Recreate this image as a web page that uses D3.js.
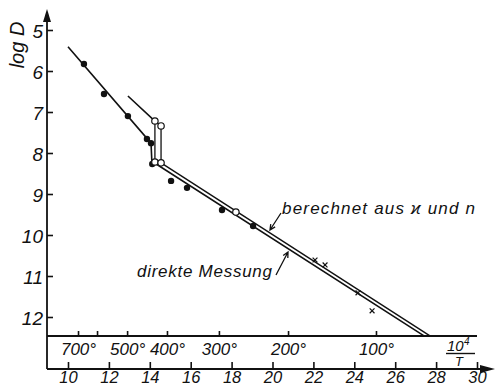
<!DOCTYPE html>
<html>
<head>
<meta charset="utf-8">
<script src="https://cdn.jsdelivr.net/npm/d3@7/dist/d3.min.js"></script>
<style>
  html, body { margin: 0; padding: 0; background: #fff; }
  svg text { font-family: "Liberation Sans", "DejaVu Sans", sans-serif; font-style: italic; fill: #111; }
</style>
</head>
<body>
<div id="chart"></div>
<script>
// x: 10^4 / T, y: log D (drawn downward)
const xTicks = [10, 12, 14, 16, 18, 20, 22, 24, 26, 28, 30];
const yTicks = [5, 6, 7, 8, 9, 10, 11, 12];

// temperature scale (°C) and where its ticks sit on the 10^4/T axis
const tempLabels = ["700°", "", "500°", "400°", "300°", "200°", "100°"];
const tempTickPos = [10.49, 11.42, 12.89, 14.84, 17.38, 20.76, 25.06];

// measured points
const filledDots = [[10.78, 5.83], [11.76, 6.56], [12.93, 7.1], [13.86, 7.66], [14.06, 7.76],
                    [14.12, 8.27], [15.04, 8.68], [15.82, 8.85], [17.53, 9.39], [19.05, 9.78]];
const openDots = [[14.25, 7.22], [14.55, 7.34], [14.25, 8.22], [14.55, 8.24], [18.21, 9.44]];
const crosses = [[22.08, 10.61], [22.57, 10.73], [24.18, 11.41], [24.87, 11.85]];

// curves: "direkte Messung" and "berechnet aus ϰ und n"
const directLine = [[10.0, 5.41], [14.06, 7.76], [14.1, 8.2], [27.41, 12.46]];
const calcTop = [[12.93, 6.61], [14.25, 7.22], [14.55, 7.34]];
const calcDrops = [[[14.25, 7.22], [14.25, 8.22]], [[14.55, 7.34], [14.55, 8.24]]];
const calcLine = [[14.55, 8.24], [27.7, 12.46]];

const width = 496, height = 386;
const axisX = 47, tempAxisY = 336, mainAxisY = 369;

const svg = d3.select("#chart").append("svg")
  .attr("width", width).attr("height", height);

const x = d3.scaleLinear().domain([10, 30]).range([68, 477]);
const y = d3.scaleLinear().domain([5, 12]).range([30, 317]);

const line = d3.line().x(d => x(d[0])).y(d => y(d[1]));

// axis lines (drawn by hand so the y axis runs down to the lower x axis)
svg.append("line").attr("x1", axisX).attr("x2", axisX).attr("y1", 18).attr("y2", mainAxisY)
  .attr("stroke", "#111").attr("stroke-width", 1.8);
svg.append("line").attr("x1", axisX).attr("x2", 477).attr("y1", tempAxisY).attr("y2", tempAxisY)
  .attr("stroke", "#111").attr("stroke-width", 1.8);
svg.append("line").attr("x1", axisX).attr("x2", 482).attr("y1", mainAxisY).attr("y2", mainAxisY)
  .attr("stroke", "#111").attr("stroke-width", 1.8);

// arrow heads
svg.append("path").attr("d", `M${axisX},9 L${axisX - 4},22 L${axisX + 4},22 Z`).attr("fill", "#111");
svg.append("path").attr("d", `M495,${mainAxisY} L480,${mainAxisY - 4} L480,${mainAxisY + 4} Z`).attr("fill", "#111");

// y axis: ticks point right, labels left
const yAxis = svg.append("g").attr("transform", `translate(${axisX},0)`)
  .call(d3.axisLeft(y).tickValues(yTicks).tickFormat(d3.format("d"))
    .tickSizeInner(-6).tickSizeOuter(0).tickPadding(4));
yAxis.select(".domain").remove();
yAxis.selectAll("line").attr("stroke", "#111").attr("stroke-width", 1.6);
yAxis.selectAll("text").style("font-size", "19px").attr("dy", "0.4em");

// lower axis 10^4/T
const xAxis = svg.append("g").attr("transform", `translate(0,${mainAxisY})`)
  .call(d3.axisBottom(x).tickValues(xTicks).tickSizeInner(-7).tickSizeOuter(0).tickPadding(2));
xAxis.select(".domain").remove();
xAxis.selectAll("line").attr("stroke", "#111").attr("stroke-width", 1.6);
xAxis.selectAll("text").style("font-size", "16.5px");

// upper temperature axis
const tAxis = svg.append("g").attr("transform", `translate(0,${tempAxisY})`)
  .call(d3.axisBottom(x).tickValues(tempTickPos).tickSizeInner(-5).tickSizeOuter(0).tickPadding(7)
    .tickFormat((d, i) => tempLabels[i]));
tAxis.select(".domain").remove();
tAxis.selectAll("line").attr("stroke", "#111").attr("stroke-width", 1.6);
tAxis.selectAll("text").style("font-size", "17px");

// 10^4 / T unit label
const unit = svg.append("g");
unit.append("text").attr("x", 447).attr("y", 351).style("font-size", "15px").text("10");
unit.append("text").attr("x", 464).attr("y", 345).style("font-size", "10px").text("4");
unit.append("line").attr("x1", 446).attr("x2", 475).attr("y1", 353.5).attr("y2", 353.5)
  .attr("stroke", "#111").attr("stroke-width", 1.4);
unit.append("text").attr("x", 455).attr("y", 366).style("font-size", "13px").text("T");

// y axis title
svg.append("text")
  .attr("transform", "translate(24,45) rotate(-90)")
  .attr("text-anchor", "middle")
  .style("font-size", "20px")
  .text("log D");

// curves
const curves = svg.append("g").attr("fill", "none").attr("stroke", "#111");
curves.append("path").attr("d", line(directLine)).attr("stroke-width", 1.6);
curves.append("path").attr("d", line(calcTop)).attr("stroke-width", 1.6);
calcDrops.forEach(seg => curves.append("path").attr("d", line(seg)).attr("stroke-width", 1.3));
curves.append("path").attr("d", line(calcLine)).attr("stroke-width", 1.4);

// points
svg.append("g").selectAll("circle").data(filledDots).join("circle")
  .attr("cx", d => x(d[0])).attr("cy", d => y(d[1])).attr("r", 3.2).attr("fill", "#111");
svg.append("g").selectAll("circle").data(openDots).join("circle")
  .attr("cx", d => x(d[0])).attr("cy", d => y(d[1])).attr("r", 3.2)
  .attr("fill", "#fff").attr("stroke", "#111").attr("stroke-width", 1.2);
svg.append("g").selectAll("path").data(crosses).join("path")
  .attr("d", d => {
    const cx = x(d[0]), cy = y(d[1]), s = 2.4;
    return `M${cx - s},${cy - s}L${cx + s},${cy + s}M${cx - s},${cy + s}L${cx + s},${cy - s}`;
  })
  .attr("stroke", "#111").attr("stroke-width", 1.2);

// annotations with arrows
function arrow(from, to) {
  const x1 = x(from[0]), y1 = y(from[1]), x2 = x(to[0]), y2 = y(to[1]);
  const a = Math.atan2(y2 - y1, x2 - x1), h = 6, w = 0.45;
  svg.append("path")
    .attr("d", `M${x1},${y1}L${x2},${y2}` +
      `M${x2 - h * Math.cos(a - w)},${y2 - h * Math.sin(a - w)}L${x2},${y2}` +
      `L${x2 - h * Math.cos(a + w)},${y2 - h * Math.sin(a + w)}`)
    .attr("fill", "none").attr("stroke", "#111").attr("stroke-width", 1.3);
}

svg.append("text").attr("x", 282).attr("y", 214).attr("textLength", 193)
  .style("font-size", "17px").text("berechnet aus ϰ und n");
arrow([10 + (281 - 68) / 20.45, 5 + (213 - 30) / 41], [10 + (270 - 68) / 20.45, 5 + (230 - 30) / 41]);

svg.append("text").attr("x", 137).attr("y", 277).attr("textLength", 135)
  .style("font-size", "17px").text("direkte Messung");
arrow([10 + (276 - 68) / 20.45, 5 + (275 - 30) / 41], [10 + (288 - 68) / 20.45, 5 + (252 - 30) / 41]);
</script>
</body>
</html>
